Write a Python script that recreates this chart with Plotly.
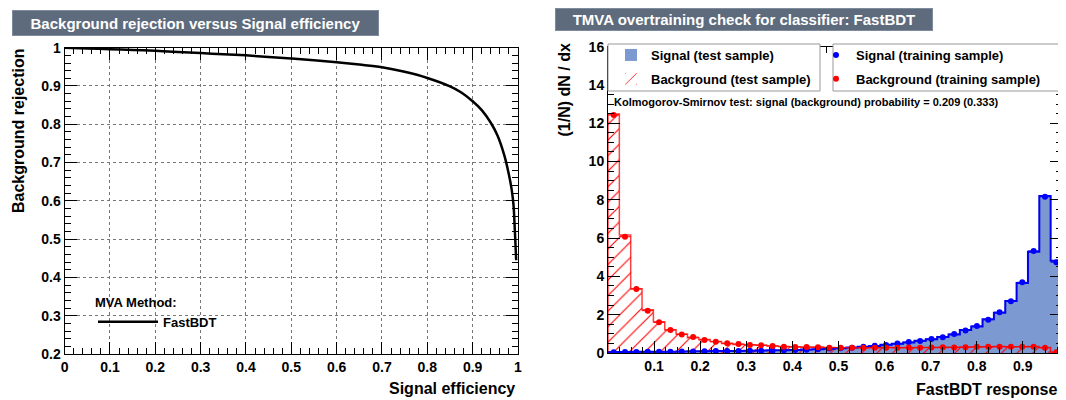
import plotly.graph_objects as go

# ---------------- data ----------------
# ROC curve (left panel)
roc_eff = [0.0, 0.05, 0.1, 0.15, 0.2, 0.25, 0.3, 0.35, 0.4, 0.45, 0.5, 0.55, 0.6, 0.65,
           0.7, 0.75, 0.8, 0.85, 0.875, 0.9, 0.92, 0.94, 0.955, 0.97, 0.98, 0.986,
           0.99, 0.993, 0.996]
roc_rej = [1.0, 0.998, 0.996, 0.994, 0.992, 0.989, 0.986, 0.983, 0.980, 0.976, 0.972,
           0.967, 0.962, 0.956, 0.949, 0.937, 0.921, 0.899, 0.883, 0.860, 0.837, 0.804,
           0.770, 0.718, 0.668, 0.630, 0.590, 0.524, 0.445]

# Overtraining check histograms (right panel), 40 bins
BIN_LO = 0.0
BIN_HI = 0.985
N_BINS = 40

sig_test = [0.05, 0.05, 0.06, 0.06, 0.07, 0.07, 0.08, 0.09, 0.09, 0.10, 0.11, 0.11,
            0.12, 0.13, 0.14, 0.15, 0.16, 0.18, 0.20, 0.22, 0.25, 0.29, 0.32, 0.37,
            0.43, 0.48, 0.55, 0.64, 0.72, 0.84, 0.97, 1.20, 1.38, 1.76, 2.10, 2.72,
            3.65, 5.29, 8.20, 4.82]
bkg_test = [12.48, 6.16, 3.36, 2.26, 1.63, 1.22, 0.99, 0.80, 0.70, 0.60, 0.50, 0.45,
            0.43, 0.40, 0.36, 0.34, 0.32, 0.30, 0.31, 0.29, 0.27, 0.28, 0.28, 0.27,
            0.29, 0.28, 0.28, 0.29, 0.29, 0.29, 0.30, 0.31, 0.31, 0.32, 0.34, 0.33,
            0.32, 0.34, 0.29, 0.05]
sig_train = [0.04, 0.05, 0.05, 0.06, 0.06, 0.07, 0.08, 0.08, 0.09, 0.10, 0.10, 0.11,
             0.12, 0.12, 0.13, 0.14, 0.16, 0.17, 0.20, 0.23, 0.25, 0.28, 0.33, 0.38,
             0.42, 0.49, 0.57, 0.63, 0.73, 0.82, 0.99, 1.18, 1.41, 1.74, 2.13, 2.70,
             3.69, 5.33, 8.16, 4.74]
bkg_train = [12.43, 6.07, 3.34, 2.21, 1.60, 1.20, 0.97, 0.83, 0.68, 0.59, 0.51, 0.47,
             0.42, 0.41, 0.37, 0.33, 0.31, 0.31, 0.30, 0.28, 0.28, 0.27, 0.27, 0.28,
             0.28, 0.28, 0.29, 0.28, 0.29, 0.30, 0.29, 0.30, 0.32, 0.33, 0.33, 0.32,
             0.33, 0.32, 0.27, 0.04]

roc_x_ticks = [0, 0.1, 0.2, 0.3, 0.4, 0.5, 0.6, 0.7, 0.8, 0.9, 1]
roc_x_labels = ["0", "0.1", "0.2", "0.3", "0.4", "0.5", "0.6", "0.7", "0.8", "0.9", "1"]
roc_y_ticks = [0.2, 0.3, 0.4, 0.5, 0.6, 0.7, 0.8, 0.9, 1]
roc_y_labels = ["0.2", "0.3", "0.4", "0.5", "0.6", "0.7", "0.8", "0.9", "1"]
resp_x_ticks = [0.1, 0.2, 0.3, 0.4, 0.5, 0.6, 0.7, 0.8, 0.9]
resp_y_ticks = [0, 2, 4, 6, 8, 10, 12, 14, 16]

# ---------------- derived ----------------
bw = (BIN_HI - BIN_LO) / N_BINS
edges = [BIN_LO + i * bw for i in range(N_BINS + 1)]
centers = [BIN_LO + (i + 0.5) * bw for i in range(N_BINS)]
half = [bw / 2] * N_BINS

SIG_LINE = "#0000ee"
SIG_FILL = "#7d99d1"
BKG = "#ff0000"
FONT = "Liberation Sans"

W, H = 1066, 400
OFF = 8  # page body margin
def px(x):
    return (x - OFF) / W
def py(y):
    return 1 - (y - OFF) / H

fig = go.Figure()

# ---- left: ROC ----
fig.add_trace(go.Scatter(x=roc_eff, y=roc_rej, mode="lines", name="FastBDT",
                         line=dict(color="black", width=2.5, shape="spline"),
                         xaxis="x", yaxis="y", legend="legend3"))

# ---- right: histograms ----
fig.add_trace(go.Bar(x=centers, y=sig_test, width=bw, name="Signal (test sample)",
                     opacity=1,
                     marker=dict(color=SIG_FILL, opacity=1, line=dict(width=0)),
                     xaxis="x2", yaxis="y2", legend="legend", legendgroup="a"))
fig.add_trace(go.Bar(x=centers, y=bkg_test, width=bw, name="Background (test sample)",
                     opacity=1,
                     marker=dict(color="rgba(0,0,0,0)", opacity=1, line=dict(width=0),
                                 pattern=dict(shape="/", fgcolor=BKG, bgcolor="rgba(0,0,0,0)",
                                              fillmode="replace", size=11, solidity=0.1)),
                     xaxis="x2", yaxis="y2", legend="legend", legendgroup="b"))
# step outlines of the test histograms
fig.add_trace(go.Scatter(x=[edges[0]] + edges, y=[0] + sig_test + [sig_test[-1]],
                         mode="lines", line=dict(color=SIG_LINE, width=2, shape="hv"),
                         showlegend=False, hoverinfo="skip", xaxis="x2", yaxis="y2"))
fig.add_trace(go.Scatter(x=[edges[0]] + edges, y=[0] + bkg_test + [bkg_test[-1]],
                         mode="lines", line=dict(color=BKG, width=1.5, shape="hv"),
                         opacity=0.75,
                         showlegend=False, hoverinfo="skip", xaxis="x2", yaxis="y2"))
# training points
fig.add_trace(go.Scatter(x=centers, y=sig_train, mode="markers", name="Signal (training sample)",
                         marker=dict(color="blue", size=6),
                         error_x=dict(type="data", array=half, color="blue", thickness=1, width=0),
                         xaxis="x2", yaxis="y2", legend="legend2", legendgroup="c"))
fig.add_trace(go.Scatter(x=centers, y=bkg_train, mode="markers", name="Background (training sample)",
                         marker=dict(color="red", size=6),
                         error_x=dict(type="data", array=half, color="red", thickness=1, width=0),
                         xaxis="x2", yaxis="y2", legend="legend2", legendgroup="d"))

tickfont = dict(family=FONT, size=14, color="black", weight="bold")
common = dict(showline=True, linecolor="black", linewidth=1, mirror="allticks",
              ticks="inside", ticklen=12, tickcolor="black", tickwidth=1,
              tickfont=tickfont, zeroline=False, automargin=False)

legfont = dict(family=FONT, size=13, color="black", weight="bold")

fig.update_layout(
    width=W, height=H, autosize=False,
    margin=dict(l=0, r=0, t=0, b=0, autoexpand=False),
    paper_bgcolor="white", plot_bgcolor="white",
    barmode="overlay", bargap=0,
    xaxis=dict(domain=[px(64.6), px(518)], range=[0, 1], anchor="y",
               tickvals=roc_x_ticks, ticktext=roc_x_labels,
               showgrid=True, gridcolor="#777", griddash="dot", gridwidth=1,
               minor=dict(dtick=0.02, ticks="inside", ticklen=6, tickcolor="black", showgrid=False),
               **common),
    yaxis=dict(domain=[py(354), py(47.7)], range=[0.2, 1], anchor="x",
               tickvals=roc_y_ticks, ticktext=roc_y_labels,
               showgrid=True, gridcolor="#777", griddash="dot", gridwidth=1,
               minor=dict(dtick=0.02, ticks="inside", ticklen=6, tickcolor="black", showgrid=False),
               **common),
    xaxis2=dict(domain=[px(608), px(1062)], range=[BIN_LO, BIN_HI], anchor="y2",
                tickvals=resp_x_ticks, showgrid=False,
                minor=dict(dtick=0.025, ticks="inside", ticklen=6, tickcolor="black"),
                **common),
    yaxis2=dict(domain=[py(353), py(46.6)], range=[0, 16], anchor="x2",
                tickvals=resp_y_ticks, showgrid=False,
                minor=dict(dtick=0.5, ticks="inside", ticklen=6, tickcolor="black"),
                **common),
    legend=dict(x=px(611), y=py(40), xanchor="left", yanchor="top",
                bgcolor="rgba(0,0,0,0)", borderwidth=0,
                font=legfont, traceorder="grouped", tracegroupgap=4, itemwidth=30),
    legend2=dict(x=px(816), y=py(40), xanchor="left", yanchor="top",
                 bgcolor="rgba(0,0,0,0)", borderwidth=0,
                 font=legfont, traceorder="grouped", tracegroupgap=4, itemwidth=30),
    legend3=dict(x=px(93), y=py(290), xanchor="left", yanchor="top",
                 bgcolor="rgba(0,0,0,0)", borderwidth=0, itemwidth=60,
                 title=dict(text="MVA Method:", side="top",
                            font=dict(family=FONT, size=13, color="black", weight="bold")),
                 font=dict(family=FONT, size=13, color="black", weight="bold")),
    showlegend=True,
)

# legend boxes (white with grey border), drawn over the frame ticks
shapes = [
    dict(type="rect", xref="paper", yref="paper", x0=px(608), x1=px(820), y0=py(91), y1=py(44),
         fillcolor="white", line=dict(color="#999", width=1), layer="above"),
    dict(type="rect", xref="paper", yref="paper", x0=px(833), x1=px(1060), y0=py(91), y1=py(44),
         fillcolor="white", line=dict(color="#999", width=1), layer="above"),
]
fig.update_layout(shapes=shapes)

ann = []
ann.append(dict(text="<b>Background rejection versus Signal efficiency</b>",
                x=px(12), y=py(10), xref="paper", yref="paper", xanchor="left", yanchor="top",
                width=363, height=22, bgcolor="#5D6B7D", bordercolor="#7D8B9D", borderwidth=1,
                font=dict(family=FONT, size=15, color="white"), align="center", showarrow=False))
ann.append(dict(text="<b>TMVA overtraining check for classifier: FastBDT</b>",
                x=px(555), y=py(8), xref="paper", yref="paper", xanchor="left", yanchor="top",
                width=374, height=19, bgcolor="#5D6B7D", bordercolor="#7D8B9D", borderwidth=1,
                font=dict(family=FONT, size=15, color="white"), align="center", showarrow=False))
ann.append(dict(text="<b>Background rejection</b>", textangle=-90,
                x=px(18), y=py(47), xref="paper", yref="paper", xanchor="center", yanchor="top",
                font=dict(family=FONT, size=16, color="black"), showarrow=False))
ann.append(dict(text="<b>Signal efficiency</b>",
                x=px(517), y=py(388), xref="paper", yref="paper", xanchor="right", yanchor="middle",
                font=dict(family=FONT, size=16, color="black"), showarrow=False))
ann.append(dict(text="<b>(1/N) dN / dx</b>", textangle=-90,
                x=px(564), y=py(42), xref="paper", yref="paper", xanchor="center", yanchor="top",
                font=dict(family=FONT, size=16, color="black"), showarrow=False))
ann.append(dict(text="<b>FastBDT response</b>",
                x=px(1059), y=py(389), xref="paper", yref="paper", xanchor="right", yanchor="middle",
                font=dict(family=FONT, size=16, color="black"), showarrow=False))
ann.append(dict(text="<b>Kolmogorov-Smirnov test: signal (background) probability = 0.209 (0.333)</b>",
                x=px(612), y=py(102), xref="paper", yref="paper", xanchor="left", yanchor="middle",
                font=dict(family=FONT, size=11, color="black"), showarrow=False))
fig.update_layout(annotations=ann)

fig.write_html("out.html")
